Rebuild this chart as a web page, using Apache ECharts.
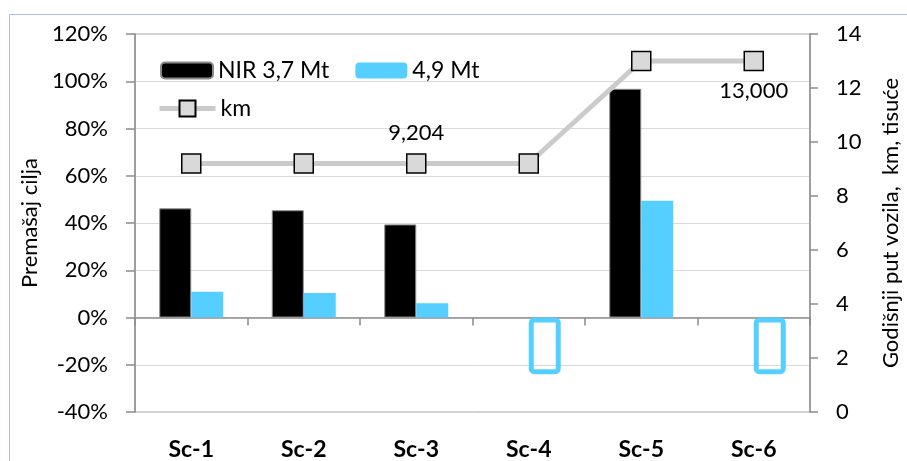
<!DOCTYPE html>
<html>
<head>
<meta charset="utf-8">
<script src="https://cdn.jsdelivr.net/npm/echarts@6/dist/echarts.min.js"></script>
<style>html,body{margin:0;padding:0;background:#fff}#c{width:907px;height:461px}</style>
</head>
<body>
<div id="c"></div>
<script>
const categories = ['Sc-1', 'Sc-2', 'Sc-3', 'Sc-4', 'Sc-5', 'Sc-6'];
const nirVals = [46.2, 45.4, 39.4, null, 96.8, null];        // NIR 3,7 Mt, %
const mt49Vals = [10.9, 10.4, 6.0, -24, 49.4, -24];          // 4,9 Mt, %
const hollowMt49 = [false, false, false, true, false, true]; // outlined placeholder boxes
const kmVals = [9204, 9204, 9204, 9204, 13000, 13000];       // km per year
const kmLabelShown = ['', '', 'top', '', '', 'bottom'];
const leftTicks = { min: -40, max: 120, interval: 20 };
const rightTicks = { min: 0, max: 14000, interval: 2000 };

const FONT = 'Lato';
const BLUE = '#55cfff';
const AXIS = '#8c8c8c';

const chart = echarts.init(document.getElementById('c'), null, { renderer: 'canvas' });

const blueData = mt49Vals.map((v, i) => hollowMt49[i]
  ? { value: v, itemStyle: { color: 'rgba(0,0,0,0)', borderColor: BLUE, borderWidth: 5, borderRadius: 3 } }
  : { value: v });

const kmData = kmVals.map((v, i) => kmLabelShown[i]
  ? { value: v, label: { show: true, position: kmLabelShown[i] } }
  : { value: v });

chart.setOption({
  backgroundColor: '#fff',
  animation: false,
  textStyle: { fontFamily: FONT },
  graphic: [{
    type: 'rect', shape: { x: 9.5, y: 14.5, width: 920, height: 470 },
    style: { fill: 'none', stroke: '#a9c0e4', lineWidth: 1 }, silent: true, z: -1
  }],
  grid: { left: 135, right: 97, top: 34, bottom: 49, show: true, borderColor: '#a6a6a6', borderWidth: 1,
    containLabel: false, outerBoundsMode: 'none' },
  legend: [{
    data: ['NIR 3,7 Mt', '4,9 Mt'],
    left: 155, top: 54, orient: 'horizontal',
    itemWidth: 52, itemHeight: 16, itemGap: 26,
    textStyle: { fontFamily: FONT, fontSize: 23, color: '#000' }
  }, {
    data: ['km'],
    left: 152, top: 92,
    itemWidth: 56, itemHeight: 20,
    lineStyle: { width: 5, color: '#cbcbcb' },
    textStyle: { fontFamily: FONT, fontSize: 23, color: '#000' }
  }],
  xAxis: [{
    type: 'category', data: categories,
    axisLine: { show: true, onZero: true, onZeroAxisIndex: 0, lineStyle: { color: AXIS, width: 1.5 } },
    axisTick: { show: true, length: 8, lineStyle: { color: AXIS, width: 1.5 } },
    axisLabel: { show: false },
    splitLine: { show: false }
  }, {
    type: 'category', data: categories, position: 'bottom',
    axisLine: { show: false, onZero: false },
    axisTick: { show: false },
    axisLabel: { margin: 26, fontFamily: FONT, fontSize: 23, fontWeight: 'bold', color: '#000' },
    splitLine: { show: false }
  }],
  yAxis: [{
    type: 'value', min: leftTicks.min, max: leftTicks.max, interval: leftTicks.interval,
    name: 'Premašaj cilja', nameLocation: 'middle', nameGap: 92, nameRotate: 90,
    nameTextStyle: { fontFamily: FONT, fontSize: 22, color: '#000' },
    axisLine: { show: true, lineStyle: { color: AXIS, width: 1.5 } },
    axisTick: { show: true, length: 9, lineStyle: { color: AXIS, width: 1.5 } },
    axisLabel: { margin: 27, formatter: '{value}%', fontFamily: FONT, fontSize: 22, color: '#000' },
    splitLine: { show: true, showMinLine: false, showMaxLine: false, lineStyle: { color: '#d9d9d9', width: 1 } }
  }, {
    type: 'value', min: rightTicks.min, max: rightTicks.max, interval: rightTicks.interval,
    position: 'right',
    name: 'Godišnji put vozila,  km, tisuće', nameLocation: 'middle', nameGap: 70, nameRotate: 90,
    nameTextStyle: { fontFamily: FONT, fontSize: 22, color: '#000' },
    axisLine: { show: true, lineStyle: { color: AXIS, width: 1.5 } },
    axisTick: { show: true, length: 8, lineStyle: { color: AXIS, width: 1.5 } },
    axisLabel: { margin: 26, formatter: v => String(v / 1000), fontFamily: FONT, fontSize: 22, color: '#000' },
    splitLine: { show: false }
  }],
  series: [{
    name: 'NIR 3,7 Mt', type: 'bar', data: nirVals, yAxisIndex: 0,
    barWidth: 32, barGap: '0%',
    itemStyle: { color: '#000', borderColor: '#8a8a8a', borderWidth: 1 }, z: 2
  }, {
    name: '4,9 Mt', type: 'bar', data: blueData, yAxisIndex: 0,
    barWidth: 32, barGap: '0%',
    itemStyle: { color: BLUE }, z: 2
  }, {
    name: 'km', type: 'line', data: kmData, yAxisIndex: 1,
    symbol: 'rect', symbolSize: 19,
    lineStyle: { color: '#cbcbcb', width: 5 },
    itemStyle: { color: '#d9d9d9', borderColor: '#000', borderWidth: 1.5 },
    label: { show: false, distance: 9, fontFamily: FONT, fontSize: 22, color: '#000',
      formatter: p => p.value.toLocaleString('en-US') },
    z: 5
  }]
});
</script>
</body>
</html>
